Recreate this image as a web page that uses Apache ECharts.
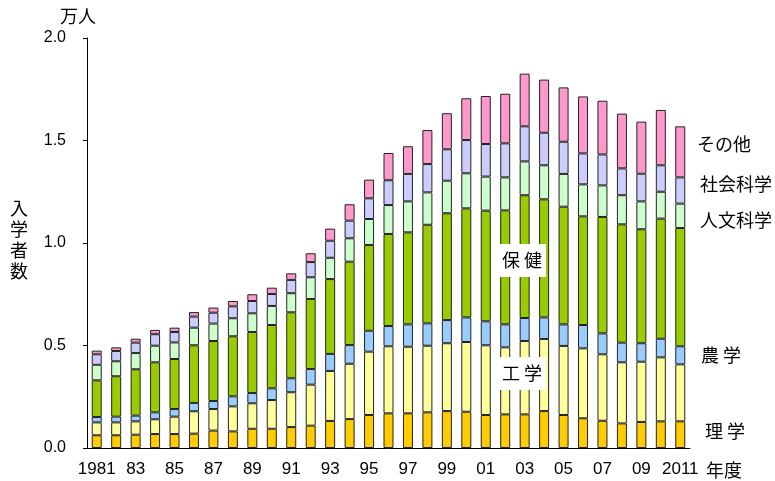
<!DOCTYPE html>
<html>
<head>
<meta charset="utf-8">
<script src="https://cdn.jsdelivr.net/npm/echarts@6/dist/echarts.min.js"></script>
<style>
html,body{margin:0;padding:0;background:#fff;}
#chart{width:775px;height:481px;}
</style>
</head>
<body>
<div id="chart"></div>
<script>
const years = ['1981','1982','1983','1984','1985','1986','1987','1988','1989','1990','1991','1992','1993','1994','1995','1996','1997','1998','1999','2000','2001','2002','2003','2004','2005','2006','2007','2008','2009','2010','2011'];
const yearLabels = ['1981','','83','','85','','87','','89','','91','','93','','95','','97','','99','','01','','03','','05','','07','','09','','2011'];
const yTicks = [0, 0.5, 1.0, 1.5, 2.0];

const rigaku = [0.062,0.062,0.065,0.068,0.068,0.070,0.085,0.081,0.094,0.094,0.102,0.109,0.132,0.141,0.161,0.169,0.169,0.174,0.180,0.177,0.161,0.164,0.164,0.180,0.161,0.145,0.133,0.120,0.127,0.130,0.130];
const kogaku = [0.063,0.063,0.065,0.072,0.085,0.109,0.105,0.122,0.124,0.140,0.170,0.200,0.244,0.270,0.309,0.327,0.325,0.325,0.331,0.340,0.340,0.327,0.358,0.352,0.337,0.341,0.324,0.298,0.294,0.312,0.278];
const nogaku = [0.026,0.028,0.028,0.034,0.037,0.041,0.039,0.049,0.050,0.057,0.068,0.076,0.083,0.091,0.102,0.099,0.109,0.109,0.113,0.120,0.117,0.112,0.112,0.105,0.105,0.114,0.102,0.096,0.090,0.091,0.088];
const hoken = [0.179,0.197,0.226,0.244,0.244,0.281,0.293,0.293,0.298,0.309,0.322,0.342,0.365,0.407,0.418,0.449,0.449,0.481,0.521,0.532,0.540,0.556,0.599,0.576,0.574,0.530,0.568,0.577,0.556,0.586,0.577];
const jinbun = [0.076,0.073,0.079,0.081,0.081,0.086,0.085,0.088,0.091,0.093,0.093,0.106,0.104,0.114,0.127,0.141,0.151,0.158,0.159,0.171,0.166,0.161,0.165,0.166,0.160,0.156,0.154,0.142,0.136,0.131,0.119];
const shakai = [0.051,0.050,0.051,0.056,0.051,0.054,0.053,0.058,0.060,0.058,0.065,0.074,0.083,0.086,0.101,0.121,0.134,0.138,0.153,0.162,0.159,0.166,0.171,0.159,0.157,0.151,0.151,0.131,0.135,0.129,0.128];
const sonota = [0.018,0.018,0.019,0.021,0.021,0.022,0.025,0.026,0.033,0.031,0.032,0.043,0.059,0.080,0.091,0.133,0.135,0.166,0.176,0.204,0.234,0.242,0.257,0.259,0.265,0.278,0.262,0.267,0.254,0.270,0.249];

const seriesNames = ['理学','工学','農学','保健','人文科学','社会科学','その他'];
const seriesData = [rigaku, kogaku, nogaku, hoken, jinbun, shakai, sonota];
const seriesColors = ['#FFCC00','#FFFF99','#99CCFF','#99CC00','#CCFFCC','#CCCCFF','#FF99CC'];

const JFONT = '"Noto Sans CJK JP", "Noto Sans", sans-serif';
const NFONT = '"Liberation Sans", Arial, sans-serif';

const chart = echarts.init(document.getElementById('chart'), null, {renderer:'canvas'});

function txt(text, x, y, size, extra) {
  return {
    type: 'text', x: x, y: y, z: 100,
    style: Object.assign({text: text, fill: '#000', font: size + 'px ' + JFONT, verticalAlign: 'middle', align: 'left'}, extra || {})
  };
}

const option = {
  animation: false,
  backgroundColor: '#fff',
  grid: {left: 87, right: 85, top: 38, bottom: 33, containLabel: false},
  xAxis: {
    type: 'category',
    data: years,
    axisLine: {show: true, lineStyle: {color: '#000', width: 1}},
    axisTick: {show: false},
    axisLabel: {
      interval: 0,
      margin: 13,
      color: '#000',
      fontSize: 17,
      fontFamily: NFONT,
      formatter: function (v, i) { return yearLabels[i]; }
    },
    splitLine: {show: false}
  },
  yAxis: {
    type: 'value',
    min: yTicks[0],
    max: yTicks[yTicks.length - 1],
    interval: 0.5,
    axisLine: {show: true, lineStyle: {color: '#000', width: 1}},
    axisTick: {show: true, inside: false, length: 4, lineStyle: {color: '#000'}},
    axisLabel: {
      margin: 21,
      color: '#000',
      fontSize: 16,
      fontFamily: NFONT,
      formatter: function (v) { return v.toFixed(1); }
    },
    splitLine: {show: false}
  },
  series: seriesNames.map(function (name, i) {
    return {
      name: name,
      type: 'bar',
      stack: 'total',
      barWidth: 10,
      data: seriesData[i],
      itemStyle: {color: seriesColors[i], borderColor: '#222', borderWidth: 1}
    };
  }),
  graphic: [
    txt('万人', 60, 16, 18),
    txt('入\n学\n者\n数', 10, 240, 18, {lineHeight: 21}),
    txt('その他', 697, 144, 18),
    txt('社会科学', 700, 184, 18),
    txt('人文科学', 700, 220, 18),
    txt('農 学', 701, 355, 18),
    txt('理 学', 705, 431, 18),
    txt('年度', 706, 470, 18),
    {type: 'rect', z: 99, shape: {x: 499, y: 244, width: 47, height: 33}, style: {fill: '#fff'}},
    txt('保 健', 522, 260, 18, {align: 'center'}),
    {type: 'rect', z: 99, shape: {x: 499, y: 357, width: 47, height: 33}, style: {fill: '#fff'}},
    txt('工 学', 522, 373, 18, {align: 'center'})
  ]
};
chart.setOption(option);
</script>
</body>
</html>
